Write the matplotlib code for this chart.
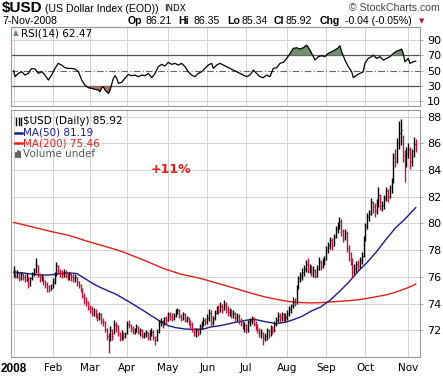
import numpy as np
import pandas as pd
import matplotlib
matplotlib.use("Agg")
import matplotlib.pyplot as plt

# trading days 2 Jan - 7 Nov 2008
holidays = ["2008-01-21", "2008-02-18", "2008-03-21", "2008-05-26", "2008-07-04", "2008-09-01"]
dates = pd.bdate_range("2008-01-02", "2008-11-07").drop(pd.to_datetime(holidays))

# daily bars, one line per month (Jan .. Nov)
close = [76.4, 76.1, 76.3, 75.9, 76.2, 76.0, 75.8, 76.1, 75.6, 75.9, 76.3, 76.5, 76.9, 76.2, 75.9, 76.0, 75.7, 75.5, 75.3, 75.0, 75.2,
         75.6, 76.2, 76.9, 76.5, 76.3, 76.2, 76.4, 76.1, 76.0, 76.2, 76.0, 75.9, 76.0, 75.6, 75.4, 75.1, 74.6, 74.4, 74.1, 73.7,
         73.6, 73.3, 73.5, 73.1, 73.0, 73.2, 72.7, 72.6, 72.1, 71.6, 71.4, 72.0, 71.6, 72.4, 72.3, 71.8, 71.5, 71.8, 71.6, 71.7,
         72.5, 72.4, 72.2, 71.9, 72.0, 72.3, 71.9, 72.0, 71.6, 71.7, 71.9, 71.5, 71.8, 71.9, 71.5, 71.3, 71.9, 72.6, 72.7, 72.5, 72.9, 72.8,
         73.2, 73.1, 72.9, 73.1, 73.4, 73.5, 73.1, 72.9, 73.2, 72.8, 72.9, 72.6, 72.5, 72.1, 71.9, 72.0, 71.8, 72.3, 72.5, 72.8, 72.6,
         72.9, 73.3, 72.6, 72.9, 73.3, 73.6, 73.5, 73.8, 73.5, 73.9, 73.6, 73.4, 73.5, 73.2, 73.3, 72.9, 73.1, 72.7, 72.6, 72.3, 72.4,
         72.1, 72.6, 72.7, 72.9, 72.5, 72.3, 72.0, 71.8, 71.9, 71.4, 71.6, 72.0, 71.8, 72.2, 72.0, 72.5, 72.8, 73.1, 72.9, 73.2, 72.8, 73.0,
         73.3, 73.6, 73.8, 74.2, 74.1, 75.2, 75.9, 76.1, 76.4, 76.6, 77.0, 76.6, 76.8, 76.3, 76.5, 76.1, 76.6, 77.1, 76.8, 77.2, 77.3,
         78.0, 78.4, 78.8, 78.3, 79.0, 79.6, 79.8, 80.2, 79.4, 79.0, 79.3, 78.2, 77.8, 77.3, 76.4, 76.7, 77.0, 76.8, 77.3, 77.6, 78.9,
         79.8, 80.5, 80.7, 81.6, 81.2, 80.9, 81.5, 82.1, 81.3, 81.4, 81.9, 82.4, 82.0, 82.6, 83.1, 85.0, 84.7, 86.0, 86.8, 87.0, 85.1, 84.6, 85.3,
         85.6, 84.6, 85.4, 85.96, 85.92]
high = [76.8, 76.5, 76.5, 76.4, 76.4, 76.3, 76.2, 76.3, 76.1, 76.0, 76.4, 76.7, 77.4, 76.9, 76.3, 76.2, 76.1, 75.8, 75.6, 75.4, 75.5,
        75.9, 76.4, 77.1, 76.9, 76.6, 76.5, 76.6, 76.5, 76.3, 76.4, 76.3, 76.2, 76.2, 76.0, 75.7, 75.5, 75.2, 74.8, 74.5, 74.2,
        73.9, 73.8, 73.7, 73.6, 73.3, 73.4, 73.3, 72.9, 72.7, 72.2, 71.8, 72.3, 72.1, 72.8, 72.6, 72.4, 71.9, 72.0, 71.9, 71.9,
        72.7, 72.8, 72.5, 72.3, 72.2, 72.5, 72.3, 72.2, 72.1, 71.9, 72.0, 71.9, 72.0, 72.2, 72.0, 71.6, 72.1, 72.8, 72.9, 72.8, 73.0, 73.1,
        73.4, 73.4, 73.3, 73.3, 73.6, 73.7, 73.6, 73.2, 73.4, 73.3, 73.1, 73.0, 72.8, 72.6, 72.2, 72.2, 72.1, 72.5, 72.7, 73.0, 72.9,
        73.2, 73.6, 73.5, 73.1, 73.5, 73.8, 73.9, 74.1, 74.0, 74.3, 74.1, 73.8, 73.7, 73.6, 73.5, 73.4, 73.3, 73.2, 72.9, 72.8, 72.6,
        72.5, 72.8, 72.9, 73.1, 73.0, 72.7, 72.5, 72.2, 72.1, 71.9, 71.8, 72.2, 72.1, 72.4, 72.3, 72.7, 73.0, 73.4, 73.3, 73.4, 73.3, 73.3,
        73.5, 73.8, 74.0, 74.5, 74.4, 75.4, 76.1, 76.4, 76.7, 76.9, 77.3, 77.4, 77.0, 76.9, 76.8, 76.6, 76.9, 77.5, 77.3, 77.4, 77.6,
        78.3, 78.6, 79.0, 78.9, 79.2, 79.8, 80.1, 80.5, 80.3, 79.6, 79.6, 79.4, 78.4, 77.9, 77.4, 77.0, 77.2, 77.3, 77.5, 77.9, 79.1,
        80.0, 80.8, 81.0, 81.9, 81.7, 81.5, 81.8, 82.7, 82.2, 81.7, 82.1, 82.7, 82.6, 82.9, 83.4, 85.3, 85.6, 86.4, 87.7, 87.8, 86.6, 85.5, 85.7,
        86.0, 85.7, 85.6, 86.5, 86.35]
low = [76.0, 75.9, 75.9, 75.7, 75.8, 75.8, 75.6, 75.7, 75.2, 75.3, 75.8, 76.1, 76.3, 76.0, 75.6, 75.7, 75.4, 75.2, 74.9, 74.9, 75.0,
       75.2, 75.5, 76.1, 76.2, 76.0, 75.9, 76.0, 75.9, 75.8, 75.8, 75.7, 75.6, 75.6, 75.3, 75.2, 74.9, 74.4, 74.0, 73.8, 73.5,
       73.3, 73.1, 73.1, 72.9, 72.7, 72.8, 72.5, 72.3, 71.9, 71.3, 70.3, 71.2, 71.3, 71.7, 71.9, 71.6, 71.2, 71.3, 71.3, 71.4,
       71.7, 72.2, 71.9, 71.7, 71.7, 71.9, 71.7, 71.6, 71.4, 71.4, 71.5, 71.3, 71.3, 71.6, 71.3, 70.9, 71.2, 71.8, 72.3, 72.2, 72.4, 72.5,
       72.7, 72.8, 72.7, 72.8, 73.0, 73.2, 72.9, 72.7, 72.8, 72.6, 72.6, 72.4, 72.2, 71.9, 71.6, 71.5, 71.6, 71.7, 72.1, 72.3, 72.4,
       72.5, 72.7, 72.3, 72.4, 72.8, 73.2, 73.2, 73.4, 73.3, 73.5, 73.3, 73.1, 73.1, 72.9, 72.9, 72.7, 72.7, 72.5, 72.3, 72.1, 71.9,
       71.8, 71.9, 72.3, 72.5, 72.3, 72.0, 71.8, 71.5, 71.4, 70.9, 71.2, 71.3, 71.4, 71.6, 71.7, 71.9, 72.3, 72.6, 72.6, 72.7, 72.6, 72.7,
       72.8, 73.1, 73.3, 73.7, 73.8, 74.0, 75.1, 75.6, 75.8, 76.1, 76.4, 76.3, 76.3, 76.1, 76.0, 75.9, 76.0, 76.5, 76.5, 76.7, 76.9,
       77.3, 77.8, 78.1, 78.0, 78.3, 78.9, 79.3, 79.6, 79.1, 78.6, 78.8, 77.9, 77.2, 76.9, 75.9, 76.2, 76.4, 76.5, 76.7, 77.0, 77.5,
       78.7, 79.6, 80.2, 80.6, 80.8, 80.5, 80.7, 81.2, 81.0, 80.9, 81.1, 81.7, 81.6, 81.9, 82.3, 83.0, 84.2, 84.5, 85.6, 85.9, 84.6, 83.1, 84.2,
       84.9, 84.1, 84.3, 85.0, 85.34]

# moving averages, read at selected days
ma50_day = [0, 5, 10, 15, 20, 25, 30, 34, 38, 42, 46, 50, 55, 60, 66, 70, 75, 79, 83, 87, 92, 97, 102, 106, 111, 116,
            121, 126, 130, 135, 141, 146, 150, 155, 160, 165, 170, 175, 180, 185, 190, 195, 200, 205, 210, 216]
ma50_val = [76.35, 76.3, 76.2, 76.13, 76.15, 76.25, 76.3, 76.25, 75.9, 75.55, 75.25, 75.0, 74.7, 74.3, 73.8, 73.45,
            73.0, 72.65, 72.35, 72.2, 72.1, 72.07, 72.1, 72.25, 72.35, 72.5, 72.65, 72.78, 72.8, 72.65, 72.5, 72.6,
            72.78, 73.05, 73.45, 73.75, 74.25, 74.9, 75.6, 76.4, 77.1, 77.9, 78.8, 79.65, 80.3, 81.19]
ma200_day = [0, 10, 20, 30, 40, 50, 56, 60, 70, 81, 90, 100, 110, 120, 127, 135, 140, 148, 155, 160, 165, 170,
             175, 180, 186, 190, 195, 200, 204, 208, 212, 216]
ma200_val = [80.08, 79.75, 79.4, 79.1, 78.65, 78.25, 78.0, 77.8, 77.25, 76.6, 76.2, 75.9, 75.5, 75.1, 74.8, 74.5,
             74.35, 74.15, 74.07, 74.05, 74.07, 74.12, 74.17, 74.22, 74.3, 74.4, 74.52, 74.65, 74.8, 75.0, 75.2, 75.46]

# RSI(14)
rsi_day = [0, 0.8, 2.5, 4.3, 6.1, 7.9, 9.7, 11.5, 13.3, 15.1, 16.9, 18.7, 20.4, 22.2, 24.0, 25.8, 27.6, 29.4, 31.2,
           33.0, 34.8, 36.6, 38.3, 40.1, 41.9, 43.7, 45.5, 46.4, 47.3, 48.2, 49.1, 50.9, 51.8, 53.6, 54.5, 55.4,
           56.3, 58.0, 59.8, 61.6, 63.4, 65.2, 67.0, 68.8, 70.6, 72.4, 74.2, 76.0, 77.7, 79.5, 81.3, 83.1, 84.9,
           86.7, 88.5, 90.3, 92.1, 93.8, 95.6, 97.4, 99.2, 101.0, 102.8, 104.6, 106.4, 107.3, 109.1, 110.9, 112.6,
           114.4, 116.2, 118.0, 119.8, 121.6, 123.4, 125.2, 127.0, 128.8, 130.5, 132.3, 134.1, 135.9, 137.7, 139.5,
           141.3, 143.1, 144.9, 146.7, 148.5, 150.2, 152.0, 153.8, 155.6, 157.4, 159.2, 161.0, 161.9, 163.7, 165.5,
           167.2, 169.0, 170.8, 172.6, 174.4, 175.3, 176.2, 178.0, 179.8, 181.6, 182.5, 184.3, 186.0, 187.8, 188.7,
           190.5, 192.3, 193.2, 195.0, 196.8, 198.6, 200.4, 202.2, 204.0, 205.8, 207.5, 208.4, 209.3, 210.2, 212.0,
           212.9, 214.7, 216.0]
rsi_val = [50, 42.2, 46.5, 48.7, 44.3, 46.5, 53, 52.2, 46.5, 48.7, 44.3, 37.8, 44.3, 53, 59.6, 57.4, 53.9, 53, 53,
           52.2, 48.7, 37.8, 31.3, 27.8, 27, 25.7, 24.8, 22.6, 27.8, 29.1, 24.8, 20.4, 24.8, 40, 43.5, 40,
           33.5, 34.8, 40, 45.2, 43.5, 44.3, 42.2, 44.3, 43.5, 46.5, 40.9, 46.5, 55.2, 58.3, 56.1, 60.9, 58.3,
           59.6, 57.4, 59.6, 55.2, 48.7, 44.3, 42.2, 46.5, 48.7, 53, 57.4, 59.6, 53, 57.4, 59.6, 57.4,
           55.2, 53, 50.9, 48.7, 46.5, 44.3, 42.2, 44.3, 50.9, 46.5, 42.2, 40.9, 44.3, 42.2, 53,
           53.9, 59.6, 60.9, 66.1, 72.6, 79.1, 80, 78.3, 80, 83.5, 77, 68.3, 63.9, 68.3, 69.6,
           68.3, 72.6, 74.8, 77, 80, 82.6, 74.8, 63.9, 55.2, 48.7, 40.9, 44.3, 46.5, 48.7, 59.6,
           66.1, 68.3, 70.4, 66.1, 68.3, 63.9, 66.1, 68.3, 72.6, 75.7, 77, 78.3, 72.6, 61.7, 66.1,
           59.6, 61.7, 62.47]

month_names = ["2008", "Feb", "Mar", "Apr", "May", "Jun", "Jul", "Aug", "Sep", "Oct", "Nov"]

W, H = 443, 377
fig = plt.figure(figsize=(W / 100, H / 100), dpi=100)
fig.patch.set_facecolor("white")


def fx(x):
    return x / W


def fy(y):
    return 1 - y / H


x = np.arange(len(close))
month_pos = [int(np.where(dates.month == m)[0][0]) for m in range(1, 12)]
grid_c = "#d4d4d4"
frame_c = "#9a9a9a"

ax_rsi = fig.add_axes([fx(11), fy(106), fx(420) - fx(11), (106 - 27) / H])
ax_px = fig.add_axes([fx(11), fy(357), fx(420) - fx(11), (357 - 110) / H])

for ax in (ax_rsi, ax_px):
    ax.set_xlim(-1.4, 218.3)
    for p in month_pos:
        ax.axvline(p, color=grid_c, lw=0.7, zorder=0)
    for s in ax.spines.values():
        s.set_color(frame_c)
        s.set_linewidth(0.8)
    ax.yaxis.tick_right()
    ax.tick_params(axis="y", length=2, width=0.6, color=frame_c, pad=3, labelsize=8)
    ax.tick_params(axis="x", length=0)

# ---- RSI panel
ax_rsi.set_ylim(3.9, 107.1)
ax_rsi.set_yticks([10, 30, 50, 70, 90])
for lv in (10, 90):
    ax_rsi.axhline(lv, color=grid_c, lw=0.7, zorder=0)
ax_rsi.axhline(70, color="#555555", lw=0.9, zorder=1)
ax_rsi.axhline(30, color="#555555", lw=0.9, zorder=1)
ax_rsi.axhline(50, color="#666666", lw=0.8, ls="-.", dashes=(6, 2, 1, 2), zorder=1)
rd = np.array(rsi_day)
rv = np.array(rsi_val)
ax_rsi.fill_between(rd, rv, 70, where=rv > 70, interpolate=True, color="#6f8f6f", lw=0, zorder=2)
ax_rsi.fill_between(rd, rv, 30, where=rv < 30, interpolate=True, color="#b07070", lw=0, zorder=2)
ax_rsi.plot(rd, rv, color="black", lw=0.9, zorder=3)
ax_rsi.set_xticks([])
fig.text(fx(21), fy(33), "RSI(14) 62.47", fontsize=7.5, va="center", ha="left", color="black")
fig.text(fx(13), fy(33), "\u25b2", fontsize=5.5, color="#6f8f6f", va="center", ha="left")

# ---- price panel
ax_px.set_ylim(70.0, 88.5)
ax_px.set_yticks(range(72, 89, 2))
for lv in range(72, 89, 2):
    ax_px.axhline(lv, color=grid_c, lw=0.7, zorder=0)

c = np.array(close)
up = np.r_[True, c[1:] >= c[:-1]]
bar_col = np.where(up, "black", "#c0143c")
ax_px.vlines(x, low, high, colors=bar_col, lw=1.0, zorder=3)
ax_px.hlines(close, x, x + 0.45, colors=bar_col, lw=0.8, zorder=3)

ax_px.plot(ma200_day, ma200_val, color="#e0201b", lw=1.0, zorder=2)
ax_px.plot(ma50_day, ma50_val, color="#1c1c8c", lw=1.0, zorder=2)

ax_px.set_xticks(month_pos)
ax_px.set_xticklabels(month_names, fontsize=7.5)
lab0 = ax_px.get_xticklabels()[0]
lab0.set_fontweight("bold")
lab0.set_family("Liberation Sans")
lab0.set_fontsize(8.5)
ax_px.tick_params(axis="x", pad=4)

leg = [("$USD (Daily) 85.92", "black", 121.5),
       ("MA(50) 81.19", "#1c1c8c", 132.5),
       ("MA(200) 75.46", "#e0201b", 143.5),
       ("Volume undef", "#555555", 154.5)]
for txt, col, yy in leg:
    fig.text(fx(23), fy(yy), txt, color=col, fontsize=7.5, va="center", ha="left")
fig.lines.append(plt.Line2D([fx(15), fx(22)], [fy(132.5)] * 2, color="#1c1c8c", lw=1.8, transform=fig.transFigure))
fig.lines.append(plt.Line2D([fx(15), fx(22)], [fy(143.5)] * 2, color="#e0201b", lw=1.8, transform=fig.transFigure))
for k, hh in enumerate([4, 6, 5]):
    fig.lines.append(plt.Line2D([fx(16 + 2 * k)] * 2, [fy(157), fy(157 - hh)], color="#555555", lw=1.3,
                                transform=fig.transFigure))
for k in range(3):
    fig.lines.append(plt.Line2D([fx(16 + 2.5 * k)] * 2, [fy(125), fy(118)], color="black", lw=1.0,
                                transform=fig.transFigure))

fig.text(fx(171), fy(170), "+11%", color="#e0201b", fontsize=9, fontweight="bold", ha="center", va="center")

# ---- header
fig.text(fx(2), fy(8), "$USD", fontsize=11, fontweight="bold", va="center", ha="left", family="Liberation Sans")
fig.text(fx(45), fy(8.5), "(US Dollar Index (EOD))", fontsize=7.6, va="center", ha="left", family="Liberation Sans")
fig.text(fx(164), fy(8.5), "INDX", fontsize=6.3, va="center", ha="left", family="DejaVu Sans")
fig.text(fx(440), fy(8), "\u00a9 StockCharts.com", fontsize=7.6, va="center", ha="right", color="#444444",
         family="Liberation Sans")
fig.text(fx(2), fy(21), "7-Nov-2008", fontsize=7.6, va="center", ha="left", family="Liberation Sans")
parts = [(128, "Op", True), (145, "86.21", False), (178, "Hi", True), (194, "86.35", False),
         (227, "Lo", True), (242, "85.34", False), (274, "Cl", True), (286, "85.92", False),
         (320, "Chg", True), (345, "-0.04 (-0.05%)", False)]
for px_, t, b in parts:
    fig.text(fx(px_), fy(21), t, fontsize=7.6, va="center", ha="left", family="Liberation Sans",
             fontweight="bold" if b else "normal")
fig.text(fx(419), fy(21), "\u25bc", fontsize=5, va="center", ha="left", color="#c0143c")
fig.lines.append(plt.Line2D([fx(11), fx(420)], [fy(27), fy(27)], color=frame_c, lw=0.8, transform=fig.transFigure))

fig.savefig("out.png", dpi=100, facecolor="white")
